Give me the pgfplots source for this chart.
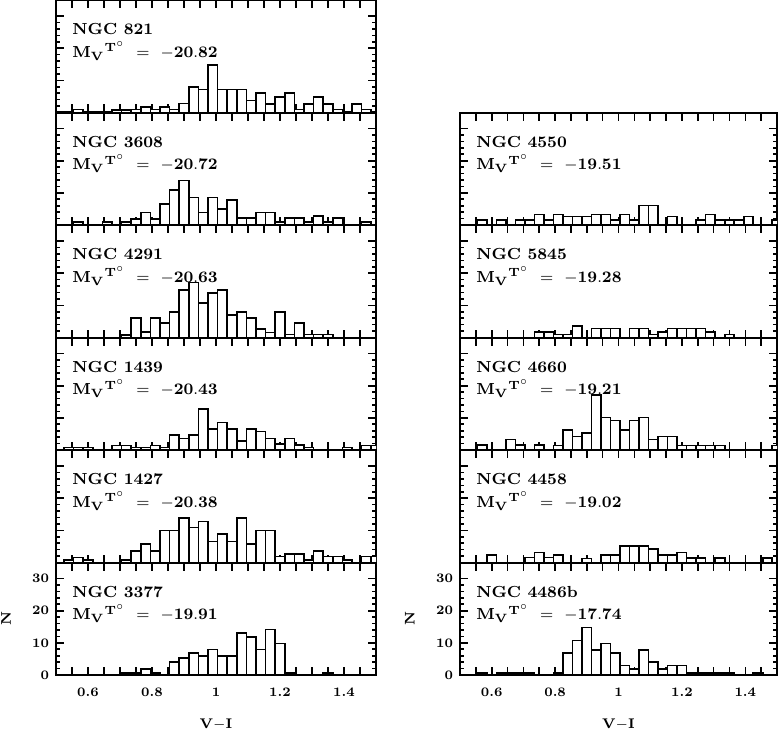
\documentclass[border=0pt]{standalone}
\usepackage{pgfplots}
\pgfplotsset{compat=1.18}

\pgfplotsset{
  panel/.style={
    scale only axis, width=160pt, height=56.25pt,
    xmin=0.5, xmax=1.5, ymin=0, ymax=35,
    axis line style={line width=1pt},
    tick align=inside,
    xtick={0.55,0.6,0.65,0.7,0.75,0.8,0.85,0.9,0.95,1,1.05,1.1,1.15,1.2,1.25,1.3,1.35,1.4,1.45},
    xticklabels={},
    ytick={0,10,20,30}, yticklabels={},
    minor y tick num=4,
    major tick length=4pt, minor tick length=2pt,
    every tick/.style={black, line width=0.8pt},
    tick label style={font=\bfseries\fontsize{6.5}{7}\selectfont},
    label style={font=\bfseries\fontsize{7}{9}\selectfont},
  },
  bottom/.style={
    xticklabels={,0.6,,,,0.8,,,,1,,,,1.2,,,,1.4,},
    yticklabels={0,10,20,30},
    xticklabel style={yshift=-3pt},
    xlabel={V$-$I},
    xlabel style={at={(axis description cs:0.5,0)}, anchor=center, yshift=-25pt},
    ylabel={N},
    ylabel style={at={(axis description cs:-0.156,0.5)}, anchor=center},
  },
  hist/.style={ybar, bar width=0.03, bar shift=0pt, fill=white, draw=black, line width=0.8pt},
}
\newcommand{\lab}[2]{%
  \node[anchor=base west, inner sep=0pt, font=\bfseries\fontsize{8}{9}\selectfont]
    at (rel axis cs:0.05,0.69) {NGC #1};
  \node[anchor=base west, inner sep=0pt, font=\bfseries\fontsize{8}{9}\selectfont]
    at (rel axis cs:0.05,0.49)
    {$\mathbf{M}_{\mathbf{V}}{}^{\mathbf{T}^{\circ}}\hspace{5.5pt}\mathbf{=}\hspace{5.5pt}\mathbf{-#2}$};}

\begin{document}
\begin{tikzpicture}
\useasboundingbox (0,0) rectangle (389.5pt,-366.5pt);

%% left column
\begin{axis}[panel, at={(28pt,0pt)}, anchor=north west]
\addplot[hist] coordinates {
(0.57,0.9) (0.69,0.7) (0.72,0.7) (0.75,0.9) (0.78,1.8) (0.81,0.9) (0.84,1.8) (0.87,0.9)
(0.90,2.8) (0.93,8) (0.96,7.2) (0.99,14.7) (1.02,7.2) (1.05,7.2) (1.08,7.2) (1.11,3.7)
(1.14,6.1) (1.17,2.6) (1.20,4.8) (1.23,6.1) (1.26,0.9) (1.29,2.6) (1.32,4.8) (1.35,2.6)
(1.38,0.9) (1.44,2.6) (1.47,0.9)};
\lab{821}{20.82}
\end{axis}

\begin{axis}[panel, at={(28pt,-56.25pt)}, anchor=north west]
\addplot[hist] coordinates {
(0.57,1) (0.66,1) (0.72,1) (0.75,1.9) (0.78,3.9) (0.81,1.9) (0.84,6.6) (0.87,10.9)
(0.90,13.8) (0.93,8.6) (0.96,3.9) (0.99,8.6) (1.02,4.9) (1.05,7.8) (1.08,2.1) (1.11,2.1)
(1.14,3.9) (1.17,3.9) (1.20,1) (1.23,2.1) (1.26,2.1) (1.29,1) (1.32,2.8) (1.35,1)
(1.38,2.1) (1.47,1)};
\lab{3608}{20.72}
\end{axis}

\begin{axis}[panel, at={(28pt,-112.5pt)}, anchor=north west]
\addplot[hist] coordinates {
(0.72,0.7) (0.75,6) (0.78,1.7) (0.81,6) (0.84,4.6) (0.87,7.9) (0.90,14.7) (0.93,17.1)
(0.96,10.8) (0.99,13.8) (1.02,14.8) (1.05,7) (1.08,8) (1.11,6) (1.14,2.7) (1.17,1.5)
(1.20,8) (1.23,0.9) (1.26,4.6) (1.29,0.9) (1.32,0.9) (1.35,0.9)};
\lab{4291}{20.63}
\end{axis}

\begin{axis}[panel, at={(28pt,-168.75pt)}, anchor=north west]
\addplot[hist] coordinates {
(0.54,0.8) (0.57,0.8) (0.60,0.8) (0.69,1.4) (0.72,1.4) (0.75,0.8) (0.78,0.8) (0.81,1.4)
(0.84,0.8) (0.87,4.7) (0.90,3.6) (0.93,4.7) (0.96,12.8) (0.99,6.5) (1.02,8.6) (1.05,6.5)
(1.08,2.8) (1.11,6.5) (1.14,5.7) (1.17,3.6) (1.20,1.8) (1.23,3.6) (1.26,1.6) (1.29,0.8)
(1.41,0.8) (1.47,1.4) (1.50,1.4)};
\lab{1439}{20.43}
\end{axis}

\begin{axis}[panel, at={(28pt,-225pt)}, anchor=north west]
\addplot[hist] coordinates {
(0.54,0.8) (0.57,1.6) (0.60,0.8) (0.72,0.8) (0.75,3.6) (0.78,5.7) (0.81,3.6) (0.84,9.9)
(0.87,9.9) (0.90,13.8) (0.93,10.9) (0.96,12.8) (0.99,6.5) (1.02,8.9) (1.05,6.5) (1.08,13.8)
(1.11,5.7) (1.14,9.9) (1.17,9.9) (1.20,1.9) (1.23,2.6) (1.26,2.6) (1.29,0.8) (1.32,3.6)
(1.35,1.9) (1.38,1.9) (1.41,0.8) (1.47,1.9) (1.50,1.9)};
\lab{1427}{20.38}
\end{axis}

\begin{axis}[panel, bottom, at={(28pt,-281.25pt)}, anchor=north west]
\addplot[hist] coordinates {
(0.72,0.6) (0.75,0.6) (0.78,1.8) (0.81,0.6) (0.87,4.1) (0.90,5.2) (0.93,6.8) (0.96,6)
(0.99,7.9) (1.02,6) (1.05,6) (1.08,13.1) (1.11,11.8) (1.14,7.9) (1.17,14.2) (1.20,9.8)
(1.23,0.6) (1.35,0.6)};
\lab{3377}{19.91}
\end{axis}

%% right column
\begin{axis}[panel, width=158.5pt, at={(230pt,-56.25pt)}, anchor=north west]
\addplot[hist] coordinates {
(0.57,1.6) (0.63,1.6) (0.69,1.6) (0.72,1.6) (0.75,3.3) (0.78,1.6) (0.81,3.3) (0.84,2.6)
(0.87,2.6) (0.90,2.6) (0.93,3.3) (0.96,3.3) (0.99,1.6) (1.02,3.3) (1.05,1.6) (1.08,6.1)
(1.11,6.1) (1.17,2.6) (1.26,1.6) (1.29,3.3) (1.32,1.6) (1.35,1.6) (1.38,1.6) (1.41,2.6)
(1.50,1.6)};
\lab{4550}{19.51}
\end{axis}

\begin{axis}[panel, width=158.5pt, at={(230pt,-112.5pt)}, anchor=north west]
\addplot[hist] coordinates {
(0.75,1.8) (0.78,1.8) (0.81,0.9) (0.84,0.9) (0.87,3.6) (0.93,2.8) (0.96,2.8) (0.99,2.8)
(1.05,2.8) (1.08,2.8) (1.11,0.9) (1.14,1.8) (1.17,2.8) (1.20,2.8) (1.23,2.8) (1.26,2.8)
(1.29,1.8) (1.35,0.9)};
\lab{5845}{19.28}
\end{axis}

\begin{axis}[panel, width=158.5pt, at={(230pt,-168.75pt)}, anchor=north west]
\addplot[hist] coordinates {
(0.57,1.5) (0.66,3.3) (0.69,1.5) (0.75,1.5) (0.81,1.4) (0.84,6.2) (0.87,4.2) (0.90,5.2)
(0.93,17.2) (0.96,10.1) (0.99,9.2) (1.02,6.2) (1.05,9.2) (1.08,10.1) (1.11,3.3) (1.14,4.2)
(1.17,4.2) (1.20,1.4) (1.23,1.4) (1.26,1.4) (1.29,1.4) (1.32,1.4) (1.50,1.4)};
\lab{4660}{19.21}
\end{axis}

\begin{axis}[panel, width=158.5pt, at={(230pt,-225pt)}, anchor=north west]
\addplot[hist] coordinates {
(0.60,2.4) (0.72,1.5) (0.75,3.1) (0.78,1.5) (0.81,2.4) (0.90,1.3) (0.96,2.4) (0.99,2.4)
(1.02,5.2) (1.05,5.2) (1.08,5.2) (1.11,4.2) (1.14,2.4) (1.17,2.4) (1.20,3.1) (1.23,1.4)
(1.26,1.4) (1.32,1.4) (1.47,1.4)};
\lab{4458}{19.02}
\end{axis}

\begin{axis}[panel, bottom, width=158.5pt, at={(230pt,-281.25pt)}, anchor=north west,
  ylabel style={at={(axis description cs:-0.158,0.5)}}]
\addplot[hist] coordinates {
(0.57,0.7) (0.63,0.7) (0.66,0.7) (0.69,0.7) (0.72,0.7) (0.81,0.7) (0.84,6.8) (0.87,10.7)
(0.90,14.8) (0.93,7.8) (0.96,9.8) (0.99,6.8) (1.02,3) (1.05,1.8) (1.08,7.8) (1.11,4)
(1.14,1.8) (1.17,3) (1.20,3) (1.23,0.7) (1.26,0.7) (1.29,0.7) (1.32,0.7) (1.35,0.7)
(1.44,0.7)};
\lab{4486b}{17.74}
\end{axis}
\end{tikzpicture}
\end{document}
